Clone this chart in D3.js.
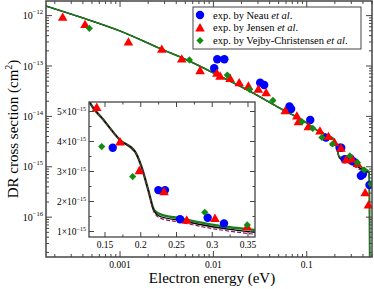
<!DOCTYPE html>
<html><head><meta charset="utf-8">
<script src="https://cdn.jsdelivr.net/npm/d3@7"></script>
<style>
body{margin:0;background:#fff}
svg{display:block}
text{font-family:"Liberation Serif","Times New Roman",serif;fill:#000}
</style></head>
<body><svg id="c" width="374" height="289"></svg>
<script>
// theory curves
const curveE = [1.61e-4, 3.7e-4, 1e-3, 2.8e-3, 5.2e-3, 1e-2, 2.5e-2, 5e-2, 0.1, 0.128, 0.148, 0.171, 0.192, 0.201, 0.2105, 0.2186, 0.227, 0.255, 0.302, 0.325, 0.36, 0.406, 0.441, 0.466, 0.470, 0.472];
const curveGreen = [1.55e-12, 9.4e-13, 4.95e-13, 2.15e-13, 1.32e-13, 7.3e-14, 3.1e-14, 1.5e-14, 7.4e-15, 5.33e-15, 4.72e-15, 4.05e-15, 3.66e-15, 3.16e-15, 2.38e-15, 1.72e-15, 1.58e-15, 1.44e-15, 1.22e-15, 1.14e-15, 1.05e-15, 9.3e-16, 8.7e-16, 8.0e-16, 2e-16, 1e-17];
const curveBlack = [1.55e-12, 9.4e-13, 4.95e-13, 2.15e-13, 1.32e-13, 7.3e-14, 3.1e-14, 1.5e-14, 7.4e-15, 5.33e-15, 4.72e-15, 4.05e-15, 3.66e-15, 3.16e-15, 2.38e-15, 1.68e-15, 1.50e-15, 1.37e-15, 1.15e-15, 1.07e-15, 0.97e-15, 8.7e-16, 8.1e-16, 7.5e-16, 1.9e-16, 1e-17];
const curveDashed = [1.55e-12, 9.4e-13, 4.95e-13, 2.15e-13, 1.32e-13, 7.3e-14, 3.1e-14, 1.5e-14, 7.4e-15, 5.33e-15, 4.72e-15, 4.05e-15, 3.66e-15, 3.16e-15, 2.38e-15, 1.64e-15, 1.45e-15, 1.31e-15, 1.09e-15, 1.01e-15, 0.91e-15, 8.2e-16, 7.7e-16, 7.1e-16, 1.8e-16, 1e-17];

// experiments
const neauE = [0.0102, 0.0110, 0.0131, 0.0317, 0.035, 0.0653, 0.068, 0.109, 0.1608, 0.2246, 0.2339, 0.255, 0.2936, 0.3164, 0.380, 0.399, 0.47];
const neauS = [9.0e-14, 1.36e-13, 1.36e-13, 4.67e-14, 4.2e-14, 1.57e-14, 1.4e-14, 8.5e-15, 3.79e-15, 2.38e-15, 2.38e-15, 1.41e-15, 1.46e-15, 1.27e-15, 6.6e-16, 7.1e-16, 4.35e-16];
const jensenE = [2.43e-4, 4.22e-4, 1.23e-3, 2.8e-3, 4.58e-3, 7.2e-3, 0.0109, 0.0118, 0.0151, 0.0189, 0.0237, 0.0303, 0.0367, 0.0588, 0.0783, 0.0815, 0.104, 0.1384, 0.171, 0.198, 0.2325, 0.2643, 0.3038, 0.349, 0.423, 0.458];
const jensenS = [9.3e-13, 6.7e-13, 3.0e-13, 2.15e-13, 1.38e-13, 8.1e-14, 7.2e-14, 6.3e-14, 5.7e-14, 4.67e-14, 4.0e-14, 3.45e-14, 2.96e-14, 1.3e-14, 1.02e-14, 7.85e-15, 6.25e-15, 5.14e-15, 3.99e-15, 3.03e-15, 2.33e-15, 1.38e-15, 1.44e-15, 1.16e-15, 3.06e-16, 1.75e-16];
const vejbyE = [4.69e-4, 5.53e-3, 0.0141, 0.0244, 0.0434, 0.0887, 0.116, 0.1454, 0.1887, 0.2895, 0.349, 0.412, 0.486];
const vejbyS = [5.6e-13, 1.32e-13, 6.6e-14, 3.42e-14, 2.07e-14, 7.85e-15, 5.8e-15, 3.83e-15, 2.83e-15, 1.64e-15, 1.22e-15, 8.65e-16, 4.56e-16];

// ticks & labels
const xTickLabels = [0.001, 0.01, 0.1];
const yTickExps = [-12, -13, -14, -15, -16];
const insetXTicks = [0.15, 0.2, 0.25, 0.3, 0.35];
const insetYTicks = [1, 2, 3, 4, 5];
const legendNames = ["Neau", "Jensen", "Vejby-Christensen"];
const xLabel = "Electron energy (eV)";

const svg = d3.select("#c");
const L = 46, R = 372, T = 1, B = 257;
const x = d3.scaleLog().domain([1.61e-4, 0.5]).range([L, R]);
const y = d3.scaleLog().domain([1.95e-12, 1.62e-17]).range([T, B]);

const IL = 89, IR = 255, IT = 102, IB = 237;
const xi = d3.scaleLinear().domain([0.1276, 0.3598]).range([IL, IR]);
const yi = d3.scaleLinear().domain([0.817e-15, 5.317e-15]).range([IB, IT]);

const defs = svg.append("defs");
defs.append("clipPath").attr("id","cm").append("rect").attr("x",L).attr("y",T).attr("width",R-L).attr("height",B-T);
defs.append("clipPath").attr("id","ci").append("rect").attr("x",IL).attr("y",IT).attr("width",IR-IL).attr("height",IB-IT);

const cGreen = "#1c7c1c", cBlack = "#000", cDash = "#8b1a5a";
const blue = "#0000ff", red = "#ff0000", dgreen = "#138a13";

function drawPanel(g, sx, sy, main) {
  const line = (arr) => d3.line().x((d,i)=>sx(curveE[i])).y((d,i)=>sy(d)).curve(d3.curveMonotoneX)(arr);
  if (main) {
    g.append("path").attr("d", line(curveDashed)).attr("fill","none").attr("stroke",cDash).attr("stroke-width",1.2).attr("stroke-dasharray","4,2");
    g.append("path").attr("d", line(curveBlack)).attr("fill","none").attr("stroke",cBlack).attr("stroke-width",1.3);
    g.append("path").attr("d", line(curveGreen)).attr("fill","none").attr("stroke",cGreen).attr("stroke-width",1.6);
  } else {
    g.append("path").attr("d", line(curveGreen)).attr("fill","none").attr("stroke",cGreen).attr("stroke-width",2.4);
    g.append("path").attr("d", line(curveBlack)).attr("fill","none").attr("stroke",cBlack).attr("stroke-width",1.3);
    g.append("path").attr("d", line(curveDashed)).attr("fill","none").attr("stroke",cDash).attr("stroke-width",1.2).attr("stroke-dasharray","4,2");
  }
  g.selectAll(null).data(neauE).enter().append("circle")
    .attr("cx",(d)=>sx(d)).attr("cy",(d,i)=>sy(neauS[i])).attr("r",4.2).attr("fill",blue);
  const tri = d3.symbol().type(d3.symbolTriangle).size(40)();
  g.selectAll(null).data(jensenE).enter().append("path")
    .attr("d",tri).attr("transform",(d,i)=>`translate(${sx(d)},${sy(jensenS[i])+0.8})`).attr("fill",red);
  const sq = d3.symbol().type(d3.symbolSquare).size(26)();
  g.selectAll(null).data(vejbyE).enter().append("path")
    .attr("d",sq).attr("transform",(d,i)=>`translate(${sx(d)},${sy(vejbyS[i])}) rotate(45)`).attr("fill",dgreen);
}

// main panel
const gm = svg.append("g").attr("clip-path","url(#cm)");
drawPanel(gm, x, y, true);

// main axes ticks
const axc = "#444";
const ga = svg.append("g").attr("stroke",axc).attr("stroke-width",1);
const xMinor = [], yMinor = [];
for (let e=-4; e<=0; e++) for (let k=1;k<=9;k++){ const v=k*Math.pow(10,e); if(v>=1.61e-4&&v<=0.5) (k===1?null:xMinor.push(v)); }
for (let e=-17; e<=-12; e++) for (let k=2;k<=9;k++){ const v=k*Math.pow(10,e); if(v>=1.62e-17&&v<=1.95e-12) yMinor.push(v); }
xTickLabels.forEach(v=>{
  ga.append("line").attr("x1",x(v)).attr("x2",x(v)).attr("y1",B).attr("y2",B-6);
  ga.append("line").attr("x1",x(v)).attr("x2",x(v)).attr("y1",T).attr("y2",T+6);
});
xMinor.forEach(v=>{
  ga.append("line").attr("x1",x(v)).attr("x2",x(v)).attr("y1",B).attr("y2",B-3);
  ga.append("line").attr("x1",x(v)).attr("x2",x(v)).attr("y1",T).attr("y2",T+3);
});
yTickExps.forEach(e=>{
  const v=Math.pow(10,e);
  ga.append("line").attr("x1",L).attr("x2",L+6).attr("y1",y(v)).attr("y2",y(v));
  ga.append("line").attr("x1",R).attr("x2",R-6).attr("y1",y(v)).attr("y2",y(v));
});
yMinor.forEach(v=>{
  ga.append("line").attr("x1",L).attr("x2",L+3).attr("y1",y(v)).attr("y2",y(v));
  ga.append("line").attr("x1",R).attr("x2",R-3).attr("y1",y(v)).attr("y2",y(v));
});
svg.append("rect").attr("x",L).attr("y",T).attr("width",R-L).attr("height",B-T).attr("fill","none").attr("stroke",axc).attr("stroke-width",1.5);

xTickLabels.forEach(v=>{
  svg.append("text").attr("x",x(v)).attr("y",267.5).attr("text-anchor","middle").attr("font-size",9.5).text(String(v));
});
yTickExps.forEach(e=>{
  const t = svg.append("text").attr("x",43).attr("y",y(Math.pow(10,e))+3.5).attr("text-anchor","end").attr("font-size",10);
  t.append("tspan").text("10");
  t.append("tspan").attr("dy",-5).attr("font-size",6.5).text("\u2212"+(-e));
});

svg.append("text").attr("x",212).attr("y",283).attr("text-anchor","middle").attr("font-size",15).text(xLabel);
const yl = svg.append("text").attr("transform","translate(18,129) rotate(-90)").attr("text-anchor","middle").attr("font-size",15);
yl.append("tspan").text("DR cross section (cm");
yl.append("tspan").attr("dy",-6).attr("font-size",10).text("2");
yl.append("tspan").attr("dy",6).text(")");

// inset
svg.append("rect").attr("x",IL).attr("y",IT).attr("width",IR-IL).attr("height",IB-IT).attr("fill","#fff");
const gi = svg.append("g").attr("clip-path","url(#ci)");
drawPanel(gi, xi, yi, false);
const gti = svg.append("g").attr("stroke",axc).attr("stroke-width",1);
insetXTicks.forEach(v=>{
  gti.append("line").attr("x1",xi(v)).attr("x2",xi(v)).attr("y1",IB).attr("y2",IB-5);
  gti.append("line").attr("x1",xi(v)).attr("x2",xi(v)).attr("y1",IT).attr("y2",IT+5);
  const m=v+0.025;
  if (xi(m)<IR) {
    gti.append("line").attr("x1",xi(m)).attr("x2",xi(m)).attr("y1",IB).attr("y2",IB-2.5);
    gti.append("line").attr("x1",xi(m)).attr("x2",xi(m)).attr("y1",IT).attr("y2",IT+2.5);
  }
  const m2=v-0.025;
  if (xi(m2)>IL && v===insetXTicks[0]) {
    gti.append("line").attr("x1",xi(m2)).attr("x2",xi(m2)).attr("y1",IB).attr("y2",IB-2.5);
    gti.append("line").attr("x1",xi(m2)).attr("x2",xi(m2)).attr("y1",IT).attr("y2",IT+2.5);
  }
});
insetYTicks.forEach(v=>{
  const yy = yi(v*1e-15);
  gti.append("line").attr("x1",IL).attr("x2",IL+5).attr("y1",yy).attr("y2",yy);
  gti.append("line").attr("x1",IR).attr("x2",IR-5).attr("y1",yy).attr("y2",yy);
  const ym = yi((v+0.5)*1e-15);
  if (ym>IT) {
    gti.append("line").attr("x1",IL).attr("x2",IL+2.5).attr("y1",ym).attr("y2",ym);
    gti.append("line").attr("x1",IR).attr("x2",IR-2.5).attr("y1",ym).attr("y2",ym);
  }
});
svg.append("rect").attr("x",IL).attr("y",IT).attr("width",IR-IL).attr("height",IB-IT).attr("fill","none").attr("stroke",axc).attr("stroke-width",1.3);
insetXTicks.forEach(v=>{
  svg.append("text").attr("x",xi(v)).attr("y",248).attr("text-anchor","middle").attr("font-size",9.5).text(String(v));
});
insetYTicks.forEach(v=>{
  const t = svg.append("text").attr("x",86).attr("y",yi(v*1e-15)+3.5).attr("text-anchor","end").attr("font-size",9.5);
  t.append("tspan").text(v+"\u00d710");
  t.append("tspan").attr("dy",-4.5).attr("font-size",6).text("\u221215");
});

// legend
const lg = svg.append("g");
lg.append("rect").attr("x",193).attr("y",7).attr("width",168).attr("height",42).attr("fill","#fff").attr("stroke",axc).attr("stroke-width",1);
const rows = [15, 27.8, 40.6];
lg.append("circle").attr("cx",200).attr("cy",rows[0]).attr("r",4.2).attr("fill",blue);
lg.append("path").attr("d",d3.symbol().type(d3.symbolTriangle).size(40)()).attr("transform",`translate(200,${rows[1]+0.8})`).attr("fill",red);
lg.append("path").attr("d",d3.symbol().type(d3.symbolSquare).size(26)()).attr("transform",`translate(200,${rows[2]}) rotate(45)`).attr("fill",dgreen);
legendNames.forEach((n,i)=>{
  const t = lg.append("text").attr("x",213).attr("y",rows[i]+3.5).attr("font-size",10.5);
  t.append("tspan").text("exp. by "+n+" ");
  t.append("tspan").attr("font-style","italic").text("et al");
  t.append("tspan").text(".");
});
</script></body></html>
